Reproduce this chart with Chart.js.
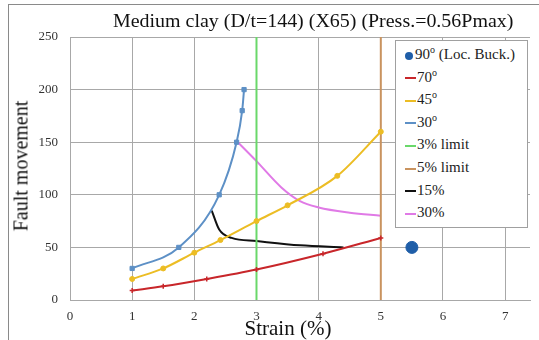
<!DOCTYPE html>
<html>
<head>
<meta charset="utf-8">
<script src="https://cdn.jsdelivr.net/npm/chart.js@4/dist/chart.umd.min.js"></script>
<style>
  body { margin: 0; background: #fff; }
  #wrap { position: relative; width: 539px; height: 340px; overflow: hidden; font-family: "Liberation Serif", "Times New Roman", serif; }
  #frame { position: absolute; left: 8px; top: 4px; width: 700px; height: 500px; border: 1px solid #8a8a8a; }
  #title { position: absolute; top: 10px; left: 113px; font-size: 19px; white-space: nowrap; color: #111; transform: scaleX(1.05); transform-origin: left top; }
  #xtitle { position: absolute; top: 316px; left: 288px; font-size: 21px; white-space: nowrap; color: #111; transform: translateX(-50%); }
  #ytitle { position: absolute; top: 166px; left: 21px; font-size: 20px; white-space: nowrap; color: #111; transform: translate(-50%, -50%) rotate(-90deg); }
  #legend { position: absolute; left: 395px; top: 40px; width: 133px; height: 188px; border: 1px solid #a0a0a0; background: #fff; box-sizing: border-box; }
  .item { position: absolute; left: 9px; height: 20px; line-height: 20px; font-size: 15px; color: #222; white-space: nowrap; }
  .item sup { font-size: 10px; line-height: 0; }
  .sw { display: inline-block; width: 11px; height: 2px; vertical-align: middle; margin-right: 1px; }
  .dot { display: inline-block; width: 8px; height: 8px; border-radius: 50%; vertical-align: middle; margin-right: 2px; }
  canvas { position: absolute; left: 0; top: 0; }
</style>
</head>
<body>
<div id="wrap">
  <div id="frame"></div>
  <canvas id="c" width="539" height="340"></canvas>
  <div id="title">Medium clay (D/t=144) (X65) (Press.=0.56Pmax)</div>
  <div id="xtitle">Strain (%)</div>
  <div id="ytitle">Fault movement</div>
  <div id="legend"></div>
</div>
<script>
// valores
const xTicks = [0, 1, 2, 3, 4, 5, 6, 7];
const yTicks = [0, 50, 100, 150, 200, 250];

const x90 = [5.5];
const y90 = [50];
const x70 = [1, 1.5, 2.2, 3, 4.07, 5];
const y70 = [9, 13, 20, 29, 44, 59];
const x45 = [1, 1.5, 2, 2.42, 3, 3.5, 4.3, 5];
const y45 = [20, 30, 45, 57, 75, 90, 118, 160];
const x30 = [1, 1.75, 2.4, 2.68, 2.77, 2.8];
const y30 = [30, 50, 100, 150, 180, 200];
const x3lim = [3, 3];
const y3lim = [0, 250];
const x5lim = [5, 5];
const y5lim = [0, 250];
const x15p = [2.28, 2.4, 2.6, 3, 3.7, 4.4];
const y15p = [85, 67, 59, 56, 52, 50];
const x30p = [2.7, 3.0, 3.4, 3.7, 4.0, 4.5, 5];
const y30p = [150, 132, 107, 94, 88, 83, 80];

const pts = (xs, ys) => xs.map((x, i) => ({ x: x, y: ys[i] }));

const series = [
  { label: "90° (Loc. Buck.)", html: "90<sup>o</sup> (Loc. Buck.)", data: pts(x90, y90), color: "#1f5ea8", line: false, r: 6, style: "circle" },
  { label: "70°", html: "70<sup>o</sup>", data: pts(x70, y70), color: "#c8262a", line: true, r: 2.5, style: "cross" },
  { label: "45°", html: "45<sup>o</sup>", data: pts(x45, y45), color: "#ecbd24", line: true, r: 2.5, style: "circle" },
  { label: "30°", html: "30<sup>o</sup>", data: pts(x30, y30), color: "#5d90c6", line: true, r: 3, style: "rect" },
  { label: "3% limit", html: "3% limit", data: pts(x3lim, y3lim), color: "#6ad86a", line: true, r: 0, style: "line" },
  { label: "5% limit", html: "5% limit", data: pts(x5lim, y5lim), color: "#c9935f", line: true, r: 0, style: "line" },
  { label: "15%", html: "15%", data: pts(x15p, y15p), color: "#111111", line: true, r: 0, style: "line" },
  { label: "30%", html: "30%", data: pts(x30p, y30p), color: "#e07ae6", line: true, r: 0, style: "line" }
];

const datasets = series.map(s => ({
  label: s.label,
  data: s.data,
  showLine: s.line,
  borderColor: s.color,
  backgroundColor: s.color,
  borderWidth: 2,
  pointRadius: s.r,
  pointStyle: s.style === "line" ? "circle" : s.style,
  pointBorderWidth: s.style === "cross" ? 1.5 : 1,
  cubicInterpolationMode: "monotone"
}));

// leyenda
const leg = document.getElementById("legend");
series.forEach((s, i) => {
  const d = document.createElement("div");
  d.className = "item";
  d.style.top = (3 + i * 22.6) + "px";
  const mark = s.style === "circle" && !s.line
    ? '<span class="dot" style="background:' + s.color + '"></span>'
    : '<span class="sw" style="background:' + s.color + '"></span>';
  d.innerHTML = mark + s.html;
  leg.appendChild(d);
});

const ctx = document.getElementById("c").getContext("2d");
new Chart(ctx, {
  type: "scatter",
  data: { datasets: datasets },
  options: {
    responsive: false,
    animation: false,
    layout: { padding: { top: 37, right: 9, left: 0, bottom: 0 } },
    plugins: { legend: { display: false }, tooltip: { enabled: false } },
    scales: {
      x: {
        type: "linear",
        min: 0,
        max: 7.4,
        afterBuildTicks: s => { s.ticks = xTicks.map(v => ({ value: v })); },
        afterFit: s => { s.height = 40; },
        ticks: { color: "#333", font: { family: "Liberation Serif", size: 13 }, padding: 9 },
        grid: { color: "#a8a8a8", lineWidth: 1, drawTicks: false },
        border: { color: "#a8a8a8" }
      },
      y: {
        type: "linear",
        min: 0,
        max: 250,
        afterBuildTicks: s => { s.ticks = yTicks.map(v => ({ value: v })); },
        afterFit: s => { s.width = 70; },
        ticks: { color: "#333", font: { family: "Liberation Serif", size: 13 }, padding: 12 },
        grid: { color: "#a8a8a8", lineWidth: 1, drawTicks: false },
        border: { color: "#a8a8a8" }
      }
    }
  }
});
</script>
</body>
</html>
